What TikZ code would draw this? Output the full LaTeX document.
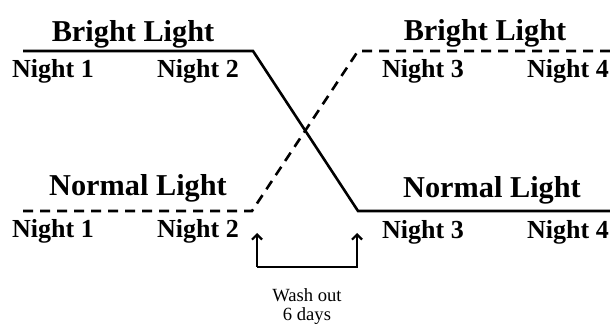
\documentclass[tikz,border=0pt]{standalone}
\usepackage{fontspec}
\setmainfont{Liberation Serif}
\usetikzlibrary{arrows.meta}
\begin{document}
\begin{tikzpicture}[x=1pt,y=1pt,
  head/.style={font=\bfseries\fontsize{30.3}{33}\selectfont, anchor=base, inner sep=0pt},
  night/.style={font=\bfseries\fontsize{26}{30}\selectfont, anchor=base, inner sep=0pt},
  note/.style={font=\fontsize{18.6}{21}\selectfont, anchor=base, inner sep=0pt},
  solidline/.style={line width=2.6pt, line join=miter},
  dashline/.style={line width=2.6pt, dash pattern=on 10pt off 7pt},
  washarrow/.style={line width=2.2pt, -{Straight Barb[length=5pt,width=10pt,line width=2.2pt]}}
]
\useasboundingbox (0,0) rectangle (610,326);
% corners
\coordinate (s0) at (23,275);
\coordinate (s1) at (253,275);
\coordinate (s2) at (358,115);
\coordinate (s3) at (610,115);
\coordinate (d0) at (23,115);
\coordinate (d1) at (252,115);
\coordinate (d2) at (358,275);
\coordinate (d3) at (610,275);
\coordinate (a1) at (257,59);
\coordinate (a0) at (257,93);
\coordinate (b1) at (357,59);
\coordinate (b0) at (357,93);

\draw[solidline] (s0) -- (s1) -- (s2) -- (s3);
\draw[dashline] (d0) -- (d1) -- (d2) -- (d3);
\draw[washarrow] (a1) -- (a0);
\draw[washarrow] (a1) -- (b1) -- (b0);

% labels
\node[head] (bl1) at (133,284) {Bright Light};
\node[head] (bl2) at (485,285) {Bright Light};
\node[head] (nl1) at (138,130) {Normal Light};
\node[head] (nl2) at (492,128) {Normal Light};
\node[night] (n1a) at (53,248) {Night 1};
\node[night] (n2a) at (198,248) {Night 2};
\node[night] (n3a) at (423,248) {Night 3};
\node[night] (n4a) at (568,248) {Night 4};
\node[night] (n1b) at (53,88) {Night 1};
\node[night] (n2b) at (198,88) {Night 2};
\node[night] (n3b) at (423,87) {Night 3};
\node[night] (n4b) at (568,87) {Night 4};
\node[note] (w1) at (307,24) {Wash out};
\node[note] (w2) at (307,5) {6 days};
\end{tikzpicture}
\end{document}
